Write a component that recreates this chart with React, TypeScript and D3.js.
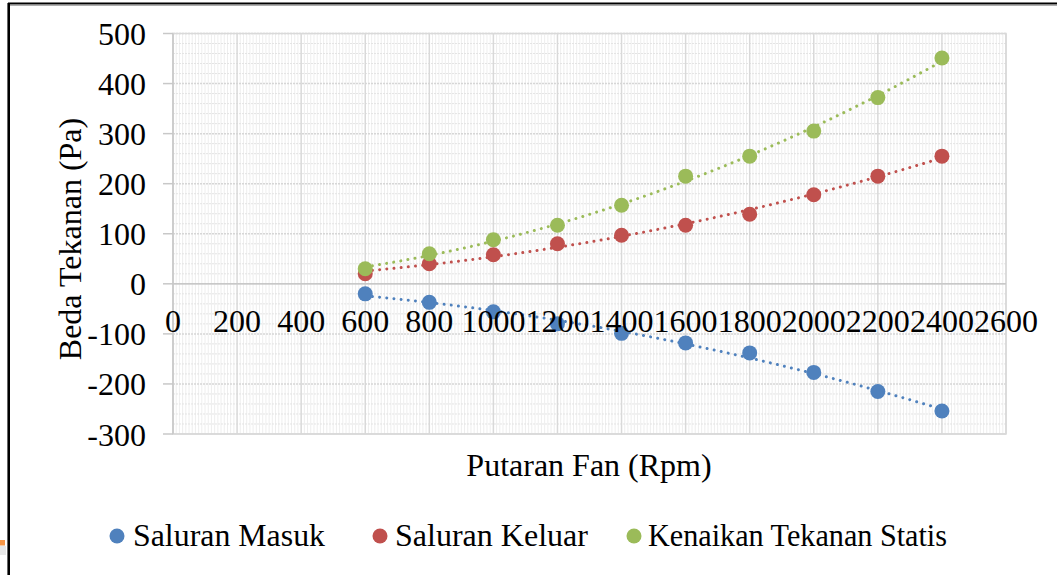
import React from "react";
import * as d3 from "d3";

const rpm = [600, 800, 1000, 1200, 1400, 1600, 1800, 2000, 2200, 2400];
const saluranMasuk = [-20, -37, -56, -80, -99, -118, -138, -177, -215, -254];
const saluranKeluar = [20, 40, 58, 80, 97, 117, 139, 178, 215, 255];
const kenaikanStatis = [30, 60, 88, 117, 157, 215, 255, 305, 372, 451];
const seriesNames = ["Saluran Masuk", "Saluran Keluar", "Kenaikan Tekanan Statis"];
const seriesColors = ["#4f81bd", "#c0504d", "#9bbb59"];
const xTicks = [0, 200, 400, 600, 800, 1000, 1200, 1400, 1600, 1800, 2000, 2200, 2400, 2600];
const yTicks = [-300, -200, -100, 0, 100, 200, 300, 400, 500];

// least-squares polynomial (order 2) trendline, like Excel's
function polyFit(xs: number[], ys: number[]) {
  const n = xs.length;
  const s = [0, 0, 0, 0, 0];
  const t = [0, 0, 0];
  for (let i = 0; i < n; i++) {
    const xv = xs[i] / 1000;
    for (let k = 0; k < 5; k++) s[k] += Math.pow(xv, k);
    for (let k = 0; k < 3; k++) t[k] += ys[i] * Math.pow(xv, k);
  }
  const A = [
    [s[0], s[1], s[2], t[0]],
    [s[1], s[2], s[3], t[1]],
    [s[2], s[3], s[4], t[2]],
  ];
  for (let i = 0; i < 3; i++) {
    for (let j = i + 1; j < 3; j++) {
      const f = A[j][i] / A[i][i];
      for (let k = i; k < 4; k++) A[j][k] -= f * A[i][k];
    }
  }
  const c = [0, 0, 0];
  for (let i = 2; i >= 0; i--) {
    let v = A[i][3];
    for (let k = i + 1; k < 3; k++) v -= A[i][k] * c[k];
    c[i] = v / A[i][i];
  }
  return (xv: number) => c[0] + c[1] * (xv / 1000) + c[2] * (xv / 1000) ** 2;
}

export default function App() {
  const W = 1057, H = 575;
  const x = d3.scaleLinear().domain([0, 2600]).range([173, 1006]);
  const y = d3.scaleLinear().domain([-300, 500]).range([434, 33.5]);
  const font = "'Liberation Serif', 'Times New Roman', serif";
  const allSeries = [saluranMasuk, saluranKeluar, kenaikanStatis];

  const minorX = d3.range(0, 2600 + 1, 10).filter((v) => v % 200 !== 0);
  const minorY = d3.range(-300, 500 + 1, 20).filter((v) => v % 100 !== 0);

  const line = d3.line<[number, number]>().x((d) => x(d[0])).y((d) => y(d[1]));

  const legendItems = [
    { cx: 117, tx: 133, len: 192 },
    { cx: 380, tx: 395, len: 193 },
    { cx: 634, tx: 648, len: 299 },
  ];

  return (
    <svg width={W} height={H} style={{ position: "absolute", left: 0, top: 0, background: "#fff" }}>
      {/* frame */}
      <line x1={8.7} y1={3} x2={8.7} y2={H} stroke="#000" strokeWidth={2.6} />
      <line x1={8} y1={3.6} x2={W} y2={3.6} stroke="#000" strokeWidth={2} />
      <line x1={10} y1={5.3} x2={W} y2={5.3} stroke="#9a9a9a" strokeWidth={1} />
      {/* orange fragment */}
      <rect x={0} y={546} width={6} height={9} fill="#e8e8e8" />
      <rect x={0} y={540} width={5} height={5.5} fill="#f79646" />

      {/* minor gridlines */}
      {minorX.map((v) => (
        <line key={"mx" + v} x1={x(v)} x2={x(v)} y1={y(500)} y2={y(-300)} stroke="#eeeeee" strokeWidth={1} />
      ))}
      {minorY.map((v) => (
        <line key={"my" + v} x1={x(0)} x2={x(2600)} y1={y(v)} y2={y(v)} stroke="#e4e4e4" strokeWidth={1} strokeDasharray="2 1" />
      ))}
      {/* major gridlines */}
      {xTicks.map((v) => (
        <line key={"gx" + v} x1={x(v)} x2={x(v)} y1={y(500)} y2={y(-300)} stroke="#d9d9d9" strokeWidth={1.5} />
      ))}
      {yTicks.map((v) => (
        <line key={"gy" + v} x1={x(0)} x2={x(2600)} y1={y(v)} y2={y(v)} stroke="#d6d6d6" strokeWidth={1.5} strokeDasharray={v === 0 || v === -300 ? undefined : "2 1"} />
      ))}
      {/* plot border */}
      <rect x={x(0)} y={y(500)} width={x(2600) - x(0)} height={y(-300) - y(500)} fill="none" stroke="#d9d9d9" strokeWidth={1.5} />
      {/* axes */}
      <line x1={x(0)} x2={x(0)} y1={y(500)} y2={y(-300)} stroke="#c8c8c8" strokeWidth={1.5} />
      <line x1={x(0)} x2={x(2600)} y1={y(0)} y2={y(0)} stroke="#c8c8c8" strokeWidth={1.5} />
      {yTicks.map((v) => (
        <line key={"ty" + v} x1={163} x2={x(0)} y1={y(v)} y2={y(v)} stroke="#c8c8c8" strokeWidth={1.5} />
      ))}

      {/* trendlines */}
      {allSeries.map((vals, i) => {
        const f = polyFit(rpm, vals);
        const pts: [number, number][] = d3.range(600, 2400 + 1, 20).map((r) => [r, f(r)]);
        return (
          <path key={"tr" + i} d={line(pts) || ""} fill="none" stroke={seriesColors[i]} strokeWidth={3}
            strokeDasharray="0.01 7.2" strokeLinecap="round" />
        );
      })}
      {/* markers */}
      {allSeries.map((vals, i) =>
        vals.map((v, j) => (
          <circle key={"m" + i + "-" + j} cx={x(rpm[j])} cy={y(v)} r={7.5} fill={seriesColors[i]} />
        ))
      )}

      {/* tick labels */}
      {yTicks.map((v) => (
        <text key={"ly" + v} x={146} y={y(v) + 11.5} textAnchor="end" fontFamily={font} fontSize={32} fill="#000">
          {v}
        </text>
      ))}
      {xTicks.map((v) => (
        <text key={"lx" + v} x={x(v)} y={332} textAnchor="middle" fontFamily={font} fontSize={32} fill="#000">
          {v}
        </text>
      ))}

      {/* axis titles */}
      <text x={589} y={476} textAnchor="middle" fontFamily={font} fontSize={32} fill="#000">
        Putaran Fan (Rpm)
      </text>
      <text transform={`translate(81,239) rotate(-90)`} textAnchor="middle" fontFamily={font} fontSize={32} fill="#000">
        Beda Tekanan (Pa)
      </text>

      {/* legend */}
      {seriesNames.map((name, i) => (
        <g key={"lg" + i}>
          <circle cx={legendItems[i].cx} cy={536} r={7.5} fill={seriesColors[i]} />
          <text x={legendItems[i].tx} y={546} fontFamily={font} fontSize={32} fill="#000"
            textLength={legendItems[i].len} lengthAdjust="spacingAndGlyphs">
            {name}
          </text>
        </g>
      ))}
    </svg>
  );
}
